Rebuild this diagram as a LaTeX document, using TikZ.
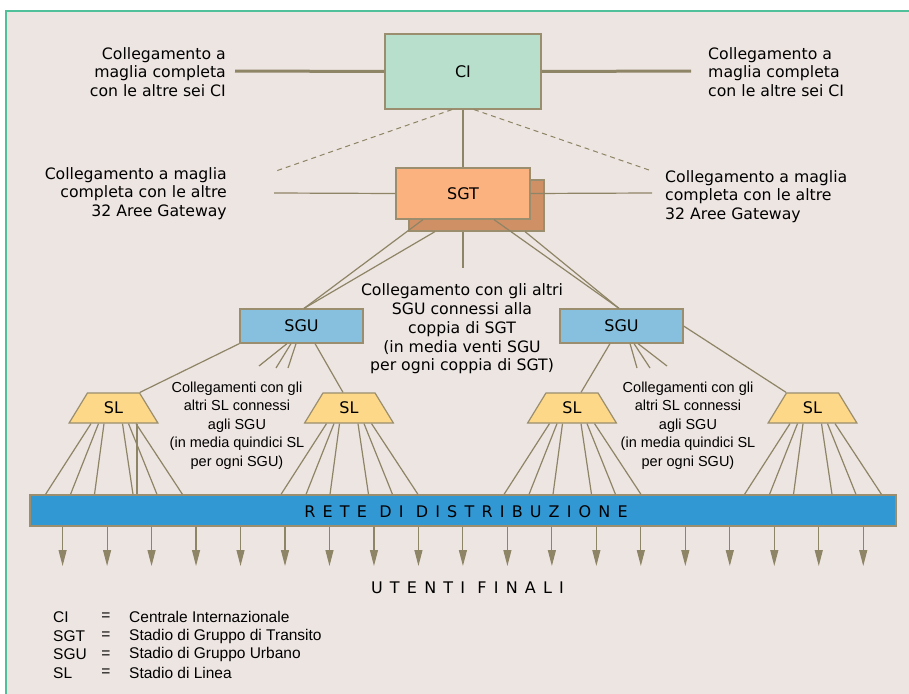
\documentclass[tikz,border=0pt]{standalone}
\usepackage{fontspec}
\setmainfont{DejaVu Sans}
\newfontfamily\arialfont{Liberation Sans}
\newfontfamily\spacedfont[LetterSpace=45]{DejaVu Sans}
\usetikzlibrary{shapes.geometric,arrows.meta}

\definecolor{pagebg}{HTML}{EDE5E1}
\definecolor{framec}{HTML}{4FC09A}
\definecolor{linec}{HTML}{8E8466}
\definecolor{edgec}{HTML}{9A8E6E}
\definecolor{cifill}{HTML}{B7DFCB}
\definecolor{sgtfill}{HTML}{FBB27E}
\definecolor{sgtshade}{HTML}{CF9066}
\definecolor{sgufill}{HTML}{87C0DE}
\definecolor{slfill}{HTML}{FDD888}
\definecolor{retefill}{HTML}{3298D4}

\tikzset{
  conn/.style={draw=linec, line width=1.2pt},
  thickconn/.style={draw=linec, line width=3pt},
  dashconn/.style={draw=linec, line width=1pt, dash pattern=on 5pt off 4pt},
  box/.style={draw=edgec, line width=1.2pt, inner sep=0pt,
    font=\fontsize{16}{19}\selectfont},
  slbox/.style={box, trapezium, trapezium left angle=61,
    trapezium right angle=61, trapezium stretches=true,
    minimum width=89pt, minimum height=30pt, fill=slfill},
  note/.style={font=\fontsize{15.7}{18.8}\selectfont, inner sep=0pt},
  spaced/.style={font=\spacedfont\fontsize{16}{19}\selectfont, inner sep=0pt},
  slnote/.style={font=\arialfont\fontsize{14.5}{18.5}\selectfont,
    inner sep=0pt, align=center},
  legend/.style={font=\arialfont\fontsize{15.5}{18.7}\selectfont,
    inner sep=0pt, anchor=west},
  userarrow/.style={draw=linec, line width=1.1pt,
    -{Triangle[length=16pt,width=8pt]}},
}

\begin{document}
\begin{tikzpicture}[x=1pt,y=-1pt]
  \useasboundingbox (0,0) rectangle (909,693);
  \fill[white] (0,0) rectangle (909,693);
  \fill[pagebg] (6,11) rectangle (915,700);
  \draw[framec, line width=2pt] (6,700) -- (6,11) -- (915,11);

  % ---- exchange nodes
  \node[box, fill=cifill, minimum width=156pt, minimum height=75pt]
    (ci) at (463,71.5) {CI};
  \node[box, fill=sgtshade, minimum width=135pt, minimum height=51pt]
    (sgtsh) at (476.5,205.5) {};
  \node[box, fill=sgtfill, minimum width=134pt, minimum height=51pt]
    (sgt) at (463,193.5) {SGT};
  \node[box, fill=sgufill, minimum width=123pt, minimum height=34pt]
    (sgu1) at (301.5,326) {SGU};
  \node[box, fill=sgufill, minimum width=123pt, minimum height=34pt]
    (sgu2) at (621.5,326) {SGU};
  \node[slbox] (sl1) at (113.5,408) {SL};
  \node[slbox] (sl2) at (349,408) {SL};
  \node[slbox] (sl3) at (572,408) {SL};
  \node[slbox] (sl4) at (812.5,408) {SL};
  \node[draw=edgec, line width=1.2pt, fill=retefill, minimum width=866pt,
    minimum height=31pt, inner sep=0pt] (rete) at (463,510.5) {};
  \node[spaced] (retelbl) at (466,512) {RETE DI DISTRIBUZIONE};

  % ---- free ends of the open links
  \coordinate (ciLend) at (235,71);
  \coordinate (ciRend) at (691,71);
  \coordinate (dashL) at (276,171);
  \coordinate (dashR) at (649,170);
  \coordinate (sgtLend) at (274,193);
  \coordinate (sgtRend) at (652,193);
  \coordinate (sgtstub) at (463,268);

  % ---- international mesh
  \draw[thickconn] (ci.west) -- (ciLend);
  \draw[thickconn] (ci.east) -- (ciRend);
  \draw[conn] (ci.south) -- (sgt.north);
  \draw[dashconn] ([xshift=-11pt]ci.south) -- (dashL);
  \draw[dashconn] ([xshift=11pt]ci.south) -- (dashR);

  % ---- gateway mesh
  \draw[conn] (sgt.west) -- (sgtLend);
  \draw[conn] (sgt.east) -- (sgtRend);
  \draw[conn] (sgt.south |- sgtsh.south) -- (sgtstub);

  % ---- SGT pair to SGU
  \draw[conn] ([xshift=-40pt]sgt.south) -- ([xshift=2.5pt]sgu1.north);
  \draw[conn] ([xshift=-41.5pt]sgtsh.south) -- ([xshift=2.5pt]sgu1.north);
  \draw[conn] ([xshift=31pt]sgt.south) -- ([xshift=-2.5pt]sgu2.north);
  \draw[conn] ([xshift=48.5pt]sgtsh.south) -- ([xshift=-2.5pt]sgu2.north);

  % ---- SGU to SL
  \draw[conn] (sgu1.south west) -- (sl1.top right corner);
  \draw[conn] ([xshift=13.5pt]sgu1.south) -- ([xshift=-6pt]sl2.north);
  \draw[conn] ([xshift=-11.5pt]sgu2.south) -- ([xshift=9pt]sl3.north);
  \draw[conn] (sgu2.east) -- (sl4.top left corner);

  % ---- stubs toward the other SL of each SGU
  \foreach \s/\ex/\ey [count=\k] in {-14.5/259/366, -10.5/276/368, -5.5/288/368}{
    \coordinate (stubL\k) at (\ex,\ey);
    \draw[conn] ([xshift=\s pt]sgu1.south) -- (stubL\k);
  }
  \foreach \s/\ex/\ey [count=\k] in {8.5/637/368, 12.5/650/368, 16.5/667/366}{
    \coordinate (stubR\k) at (\ex,\ey);
    \draw[conn] ([xshift=\s pt]sgu2.south) -- (stubR\k);
  }

  % ---- SL fans into the distribution network
  \foreach \n in {sl1,sl2,sl3,sl4}{
    \foreach \a/\b in {-22.5/-68, -15/-43, -9.5/-19, 9/19.5, 15/43.5, 22.5/69}{
      \draw[conn] ([xshift=\a pt]\n.south) -- ([xshift=\b pt]\n.south |- rete.north);
    }
  }
  \draw[conn] ([xshift=23.5pt]sl1.south) -- ([xshift=23.5pt]sl1.south |- rete.north);

  % ---- end users
  \foreach \i in {0,...,18}{
    \coordinate (user\i) at ({62.6+\i*44.48},566);
    \draw[userarrow] (rete.south -| user\i) -- (user\i);
  }
  \node[spaced] (utenti) at (467.5,588) {UTENTI FINALI};

  % ---- annotations
  \node[note, anchor=east, align=right] (ciLtxt) at (226,72)
    {Collegamento a\\maglia completa\\con le altre sei CI};
  \node[note, anchor=west, align=left] (ciRtxt) at (708,72)
    {Collegamento a\\maglia completa\\con le altre sei CI};
  \node[note, anchor=east, align=right] (sgtLtxt) at (227,193.5)
    {Collegamento a maglia\\completa con le altre\\32 Aree Gateway};
  \node[note, anchor=west, align=left] (sgtRtxt) at (665,196.5)
    {Collegamento a maglia\\completa con le altre\\32 Aree Gateway};
  \node[note, align=center] (sgutxt) at (462,329)
    {Collegamento con gli altri\\SGU connessi alla\\coppia di SGT\\(in media venti SGU\\per ogni coppia di SGT)};
  \node[slnote] (slLtxt) at (237,425.5)
    {Collegamenti con gli\\altri SL connessi\\agli SGU\\(in media quindici SL\\per ogni SGU)};
  \node[slnote] (slRtxt) at (688,425.5)
    {Collegamenti con gli\\altri SL connessi\\agli SGU\\(in media quindici SL\\per ogni SGU)};

  % ---- legend
  \foreach \ab/\desc/\y [count=\k] in {CI/Centrale Internazionale/617,
      SGT/Stadio di Gruppo di Transito/636,
      SGU/Stadio di Gruppo Urbano/654.5,
      SL/Stadio di Linea/673}{
    \node[legend] (abbr\k) at (53,\y) {\ab};
    \node[legend, anchor=center] (eq\k) at (106,\y) {=};
    \node[legend] (desc\k) at (129,\y) {\desc};
  }
\end{tikzpicture}
\end{document}
